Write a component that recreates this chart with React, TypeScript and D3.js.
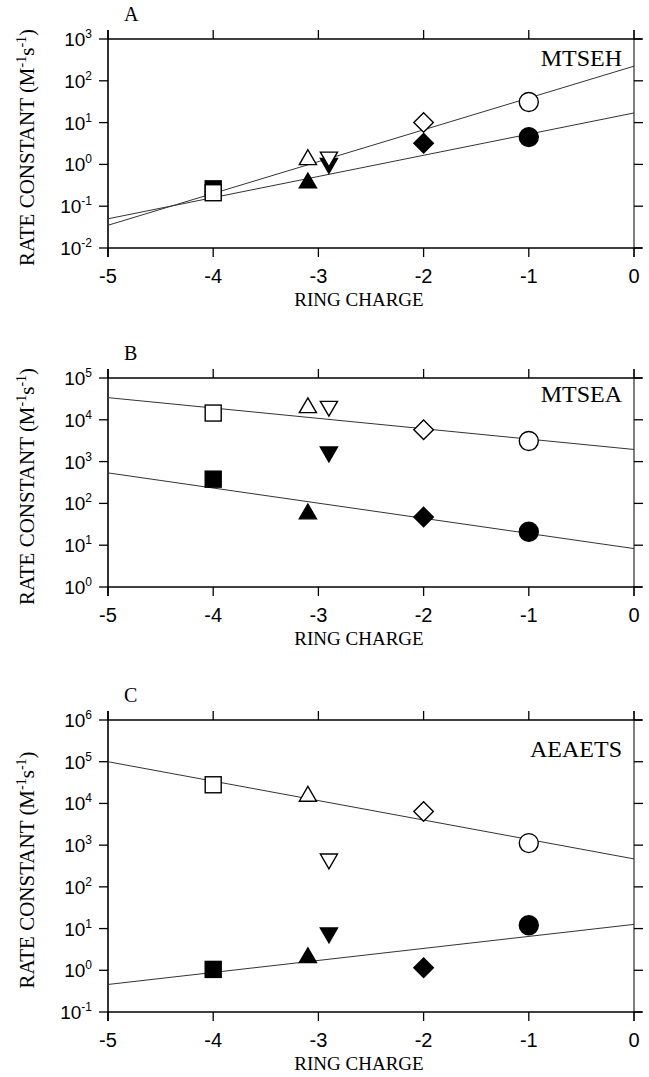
import React from "react";
import * as d3 from "d3";

// ring charge of each mutant, one marker shape each
const charge = [-4, -3.1, -2.9, -2, -1];
const shapes = ["square", "triangleUp", "triangleDown", "diamond", "circle"];

// panel A: MTSEH
const mtsehOpen = [0.21, 1.3, 1.5, 10, 31];
const mtsehFilled = [0.26, 0.36, 1.05, 3.2, 4.5];
// panel B: MTSEA
const mtseaOpen = [14500, 19500, 21000, 5800, 3100];
const mtseaFilled = [380, 56, 1700, 47, 21];
// panel C: AEAETS
const aeaetsOpen = [28000, 14800, 465, 6400, 1120];
const aeaetsFilled = [1.05, 2.0, 7.9, 1.15, 12];

// fitted lines, read at charge -5 and 0
const fitCharge = [-5, 0];
const mtsehOpenFit = [0.035, 224];
const mtsehFilledFit = [0.05, 17];
const mtseaOpenFit = [33900, 1950];
const mtseaFilledFit = [537, 8.3];
const aeaetsOpenFit = [100000, 468];
const aeaetsFilledFit = [0.457, 12.6];

const xTicks = [-5, -4, -3, -2, -1, 0];

const panels = [
  {
    letter: "A", name: "MTSEH", top: 39, bottom: 248, yMin: -2, yMax: 3,
    open: mtsehOpen, filled: mtsehFilled, fits: [mtsehOpenFit, mtsehFilledFit], nameDy: 27,
  },
  {
    letter: "B", name: "MTSEA", top: 378, bottom: 587, yMin: 0, yMax: 5,
    open: mtseaOpen, filled: mtseaFilled, fits: [mtseaOpenFit, mtseaFilledFit], nameDy: 24,
  },
  {
    letter: "C", name: "AEAETS", top: 720, bottom: 1012, yMin: -1, yMax: 6,
    open: aeaetsOpen, filled: aeaetsFilled, fits: [aeaetsOpenFit, aeaetsFilledFit], nameDy: 37,
  },
];

const left = 108;
const right = 634;
const sans = "'Liberation Sans', Arial, sans-serif";
const serif = "'Liberation Serif', 'Times New Roman', serif";

function marker(shape: string, x: number, y: number, filled: boolean, key: string) {
  const fill = filled ? "#000" : "#fff";
  const props = { fill, stroke: "#000", strokeWidth: 1.4 };
  if (shape === "circle") return <circle key={key} cx={x} cy={y} r={9.5} {...props} />;
  if (shape === "square") return <rect key={key} x={x - 8} y={y - 8} width={16} height={16} {...props} />;
  const d = d3
    .symbol()
    .type(shape === "diamond" ? d3.symbolSquare : d3.symbolTriangle2)
    .size(shape === "diamond" ? 190 : 210)() as string;
  const rot = shape === "triangleDown" ? 180 : shape === "diamond" ? 45 : 0;
  return <path key={key} d={d} transform={`translate(${x},${y}) rotate(${rot})`} {...props} />;
}

function Panel({ p }: { p: (typeof panels)[number] }) {
  const x = d3.scaleLinear().domain([-5, 0]).range([left, right]);
  const y = d3.scaleLog().domain([10 ** p.yMin, 10 ** p.yMax]).range([p.bottom, p.top]);
  const exps = d3.range(p.yMin, p.yMax + 1);
  const line = d3.line<number>().x((_, i) => x(fitCharge[i])).y((v) => y(v));
  const tick = 9;
  return (
    <g>
      <text x={124} y={p.top - 18} fontFamily={serif} fontSize={20}>{p.letter}</text>
      {/* frame */}
      <line x1={left} x2={right + 8} y1={p.top} y2={p.top} stroke="#000" strokeWidth={1.6} />
      <line x1={left} x2={right + 8} y1={p.bottom} y2={p.bottom} stroke="#000" strokeWidth={1.6} />
      <line x1={left} x2={left} y1={p.top - tick} y2={p.bottom + tick} stroke="#000" strokeWidth={1.6} />
      <line x1={right} x2={right} y1={p.top - tick} y2={p.bottom + tick} stroke="#000" strokeWidth={1} />
      {xTicks.map((t) => (
        <g key={"x" + t}>
          <line x1={x(t)} x2={x(t)} y1={p.top - tick} y2={p.top} stroke="#000" strokeWidth={1.3} />
          <line x1={x(t)} x2={x(t)} y1={p.bottom} y2={p.bottom + tick} stroke="#000" strokeWidth={1.3} />
          <text x={x(t)} y={p.bottom + 35} textAnchor="middle" fontFamily={sans} fontSize={20}>{t}</text>
        </g>
      ))}
      {exps.map((e) => (
        <g key={"y" + e}>
          <line x1={left - tick} x2={left} y1={y(10 ** e)} y2={y(10 ** e)} stroke="#000" strokeWidth={1.3} />
          <line x1={right} x2={right + tick} y1={y(10 ** e)} y2={y(10 ** e)} stroke="#000" strokeWidth={1.3} />
          <text x={left - 16} y={y(10 ** e) + 7} textAnchor="end" fontFamily={sans} fontSize={19}>
            10<tspan fontSize={12} dy={-8}>{e}</tspan>
          </text>
        </g>
      ))}
      {p.fits.map((f, i) => (
        <path key={"f" + i} d={line(f) as string} fill="none" stroke="#333" strokeWidth={1} />
      ))}
      {charge.map((c, i) => marker(shapes[i], x(c), y(p.filled[i]), true, "b" + i))}
      {charge.map((c, i) => marker(shapes[i], x(c), y(p.open[i]), false, "w" + i))}
      <text x={right - 12} y={p.top + p.nameDy} textAnchor="end" fontFamily={serif} fontSize={24}>{p.name}</text>
      <text x={(left + right) / 2 - 12} y={p.bottom + 58} textAnchor="middle" fontFamily={serif} fontSize={19}>RING CHARGE</text>
      <text transform={`translate(34,${(p.top + p.bottom) / 2 + 4}) rotate(-90)`} textAnchor="middle" fontFamily={serif} fontSize={21}>
        RATE CONSTANT (M<tspan fontSize={14} dy={-8}>-1</tspan><tspan dy={8}>s</tspan><tspan fontSize={14} dy={-8}>-1</tspan><tspan dy={8}>)</tspan>
      </text>
    </g>
  );
}

export default function App() {
  return (
    <svg width={649} height={1077} style={{ position: "absolute", left: 0, top: 0, background: "#fff" }}>
      {panels.map((p) => (
        <Panel key={p.letter} p={p} />
      ))}
    </svg>
  );
}
